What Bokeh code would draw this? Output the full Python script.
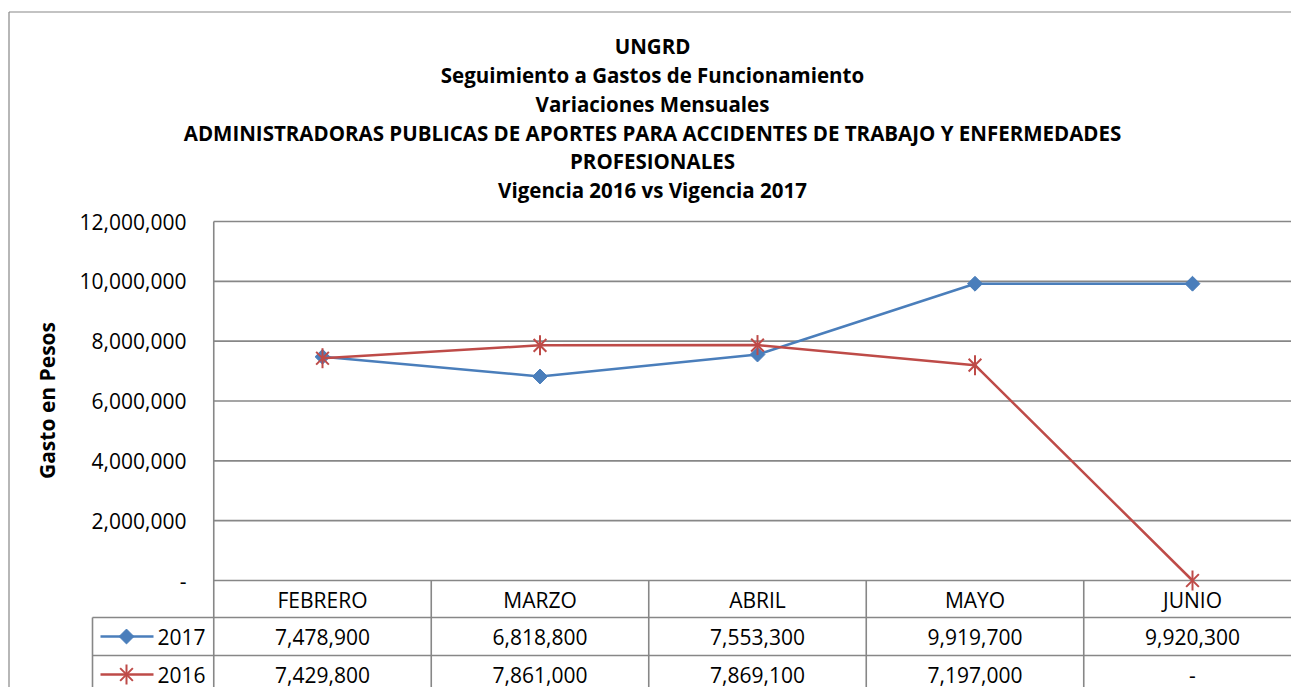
import math
from bokeh.plotting import figure
from bokeh.models import Range1d
from bokeh.core.properties import value
from bokeh.embed import file_html
from bokeh.resources import INLINE

# ---------------- data ----------------
months = ["FEBRERO", "MARZO", "ABRIL", "MAYO", "JUNIO"]
series_names = ["2017", "2016"]
values_2017 = [7478900, 6818800, 7553300, 9919700, 9920300]
values_2016 = [7429800, 7861000, 7869100, 7197000, 0]
labels_2016 = ["7,429,800", "7,861,000", "7,869,100", "7,197,000", "-"]
y_ticks = [0, 2000000, 4000000, 6000000, 8000000, 10000000, 12000000]
title_lines = [
    "UNGRD",
    "Seguimiento a Gastos de Funcionamiento",
    "Variaciones Mensuales",
    "ADMINISTRADORAS PUBLICAS DE APORTES PARA ACCIDENTES DE TRABAJO Y ENFERMEDADES",
    "PROFESIONALES",
    "Vigencia 2016 vs Vigencia 2017",
]
y_title = "Gasto en Pesos"

# ---------------- layout helpers ----------------
W, H = 1291, 687
OFF = 0
CAT_W = 217.5
X0 = 322.0           # page x of first category centre
Y_ZERO = 580.0       # page y of value 0
Y_TOP = 221.0        # page y of 12,000,000
UPP = 12000000 / (Y_ZERO - Y_TOP)

def dx(px):  # page x -> data x
    return (px - X0) / CAT_W

def dy(py):  # page y -> data y
    return (Y_ZERO - py) * UPP

FONT = "Open Sans"
GRID = "#878787"
BLUE = "#4A7EBB"
RED = "#BE4B48"
TXT = "21px"

p = figure(width=W, height=H, output_backend="svg", toolbar_location=None,
           x_range=Range1d(dx(OFF), dx(OFF + W)),
           y_range=Range1d(dy(OFF + H), dy(OFF)),
           min_border=0, border_fill_color="white", background_fill_color="white")
p.xaxis.visible = False
p.yaxis.visible = False
p.grid.visible = False
p.outline_line_color = None

xs_idx = list(range(len(months)))
x_left = -0.5
x_right = dx(OFF + W + 20)

# outer chart border
p.segment(x0=[dx(8.5)], y0=[dy(11.5)], x1=[x_right], y1=[dy(11.5)], line_color=GRID, line_width=1.2)
p.segment(x0=[dx(8.5)], y0=[dy(11.5)], x1=[dx(8.5)], y1=[dy(OFF + H + 10)], line_color=GRID, line_width=1.2)

# horizontal gridlines incl. top & zero line
p.segment(x0=[x_left] * len(y_ticks), y0=y_ticks, x1=[x_right] * len(y_ticks), y1=y_ticks,
          line_color=GRID, line_width=1.6)
# left axis line through the table
p.segment(x0=[x_left], y0=[max(y_ticks)], x1=[x_left], y1=[dy(OFF + H + 10)], line_color=GRID, line_width=1.6)

# table lines
row_lines = [dy(617), dy(655)]
p.segment(x0=[dx(92)] * 2, y0=row_lines, x1=[x_right] * 2, y1=row_lines, line_color=GRID, line_width=1.6)
p.segment(x0=[dx(92)], y0=[dy(617)], x1=[dx(92)], y1=[dy(OFF + H + 10)], line_color=GRID, line_width=1.6)
bounds = [i + 0.5 for i in xs_idx[:-1]]
p.segment(x0=bounds, y0=[0] * len(bounds), x1=bounds, y1=[dy(OFF + H + 10)] * len(bounds),
          line_color=GRID, line_width=1.6)

# y tick labels
tick_txt = ["{:,}".format(v) if v else "-" for v in y_ticks]
p.text(x=[dx(186)] * len(y_ticks), y=y_ticks, text=tick_txt, text_align="right", text_baseline="middle",
       text_font=value(FONT), text_font_size=TXT, text_color="#000000")

# y axis title
p.text(x=[dx(46)], y=[dy(400)], text=[y_title], angle=math.pi / 2, text_align="center",
       text_baseline="middle", text_font=value(FONT), text_font_style="bold",
       text_font_size="21px", text_color="#000000")

# titles
title_y = [45, 74, 103, 132, 160, 189]
p.text(x=[dx(652)] * len(title_lines), y=[dy(v) for v in title_y], text=title_lines,
       text_align="center", text_baseline="middle", text_font=value(FONT), text_font_style="bold",
       text_font_size="20.5px", text_color="#000000")

def diamond(xs, ys):
    p.scatter(xs, ys, marker="square", angle=math.pi / 4, size=10.5, fill_color=BLUE, line_color=BLUE)

def star(xs, ys):
    p.scatter(xs, ys, marker="x", size=18, line_color=RED, line_width=2)
    p.scatter(xs, ys, marker="dash", angle=math.pi / 2, size=20, line_color=RED, line_width=2)

# series lines
p.line(xs_idx, values_2017, line_color=BLUE, line_width=2.5)
diamond(xs_idx, values_2017)
p.line(xs_idx, values_2016, line_color=RED, line_width=2.5)
star(xs_idx, values_2016)

# table text
p.text(x=xs_idx, y=[dy(599)] * 5, text=months, text_align="center", text_baseline="middle",
       text_font=value(FONT), text_font_size=TXT, text_color="#000000")
p.text(x=xs_idx, y=[dy(636)] * 5, text=["{:,}".format(v) for v in values_2017], text_align="center",
       text_baseline="middle", text_font=value(FONT), text_font_size=TXT, text_color="#000000")
p.text(x=xs_idx, y=[dy(674)] * 5, text=labels_2016, text_align="center",
       text_baseline="middle", text_font=value(FONT), text_font_size=TXT, text_color="#000000")

# legend keys in the table
leg_y = [dy(636), dy(674)]
p.segment(x0=[dx(100)] * 2, y0=leg_y, x1=[dx(153)] * 2, y1=leg_y, line_color=[BLUE, RED], line_width=2.5)
diamond([dx(126)], [leg_y[0]])
star([dx(126)], [leg_y[1]])
p.text(x=[dx(157)] * 2, y=leg_y, text=series_names, text_align="left", text_baseline="middle",
       text_font=value(FONT), text_font_size=TXT, text_color="#000000")

open("out.html", "w").write(file_html(p, INLINE))
